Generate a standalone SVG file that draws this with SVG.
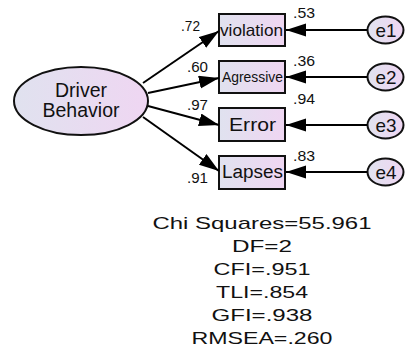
<svg xmlns="http://www.w3.org/2000/svg" width="406" height="350" viewBox="0 0 406 350">
  <defs>
    <linearGradient id="fillGrad" x1="0" y1="0" x2="1" y2="0">
      <stop offset="0" stop-color="#e0e2ef"/>
      <stop offset="1" stop-color="#efd6f2"/>
    </linearGradient>
    <marker id="arrow" markerUnits="userSpaceOnUse" markerWidth="21" markerHeight="14" refX="20" refY="6.5" orient="auto">
      <path d="M0,0 L20,6.5 L0,13 z" fill="#000"/>
    </marker>
    <style>
      text { font-family: "Liberation Sans", Arial, sans-serif; fill: #111; }
      .obs { fill: url(#fillGrad); stroke: #111; stroke-width: 2; }
      .lat { fill: url(#fillGrad); stroke: #111; stroke-width: 2; }
      .conn line { stroke: #000; stroke-width: 2; marker-end: url(#arrow); }
      .coef { font-size: 14px; }
      .fit { font-size: 17px; text-anchor: middle; }
    </style>
  </defs>

  <!-- latent factor -->
  <g id="driver-behavior">
    <ellipse class="lat" cx="81" cy="101" rx="67" ry="34"/>
    <text x="81" y="97" font-size="19.5" text-anchor="middle">Driver</text>
    <text x="81" y="117" font-size="19.5" text-anchor="middle">Behavior</text>
  </g>

  <!-- observed indicators -->
  <g id="violation">
    <rect class="obs" x="219" y="14" width="66" height="32"/>
    <text x="220" y="36" font-size="16.5" textLength="63" lengthAdjust="spacingAndGlyphs">violation</text>
  </g>
  <g id="agressive">
    <rect class="obs" x="219" y="61" width="66" height="32"/>
    <text x="222" y="82" font-size="14" textLength="61" lengthAdjust="spacingAndGlyphs">Agressive</text>
  </g>
  <g id="error">
    <rect class="obs" x="219" y="108" width="66" height="33"/>
    <text x="229" y="131" font-size="19" textLength="47" lengthAdjust="spacingAndGlyphs">Error</text>
  </g>
  <g id="lapses">
    <rect class="obs" x="219" y="156" width="66" height="33"/>
    <text x="222" y="178" font-size="18" textLength="61" lengthAdjust="spacingAndGlyphs">Lapses</text>
  </g>

  <!-- error terms -->
  <g id="e1">
    <ellipse class="lat" cx="385.5" cy="30" rx="18" ry="13.5"/>
    <text x="375.5" y="36.5" font-size="19" textLength="21" lengthAdjust="spacingAndGlyphs">e1</text>
  </g>
  <g id="e2">
    <ellipse class="lat" cx="385.5" cy="77" rx="18" ry="13.5"/>
    <text x="375.5" y="83.5" font-size="19" textLength="21" lengthAdjust="spacingAndGlyphs">e2</text>
  </g>
  <g id="e3">
    <ellipse class="lat" cx="385.5" cy="125" rx="18" ry="13.5"/>
    <text x="375.5" y="131.5" font-size="19" textLength="21" lengthAdjust="spacingAndGlyphs">e3</text>
  </g>
  <g id="e4">
    <ellipse class="lat" cx="385.5" cy="172" rx="18" ry="13.5"/>
    <text x="375.5" y="178.5" font-size="19" textLength="21" lengthAdjust="spacingAndGlyphs">e4</text>
  </g>

  <!-- paths -->
  <g id="connectors" class="conn">
    <line x1="143" y1="83" x2="219" y2="31"/>
    <line x1="148" y1="93" x2="219" y2="78"/>
    <line x1="148" y1="106" x2="219" y2="125"/>
    <line x1="143" y1="117" x2="219" y2="171"/>
    <line x1="367" y1="30" x2="286" y2="30"/>
    <line x1="367" y1="77" x2="286" y2="77"/>
    <line x1="367" y1="125" x2="286" y2="125"/>
    <line x1="367" y1="172" x2="286" y2="172"/>
  </g>

  <!-- standardized estimates -->
  <g id="estimates" class="coef">
    <text x="181" y="31" textLength="19" lengthAdjust="spacingAndGlyphs">.72</text>
    <text x="187" y="72" textLength="21" lengthAdjust="spacingAndGlyphs">.60</text>
    <text x="187" y="110" textLength="21" lengthAdjust="spacingAndGlyphs">.97</text>
    <text x="187" y="183" textLength="21" lengthAdjust="spacingAndGlyphs">.91</text>
    <text x="293" y="18" textLength="22" lengthAdjust="spacingAndGlyphs">.53</text>
    <text x="293" y="66" textLength="22" lengthAdjust="spacingAndGlyphs">.36</text>
    <text x="293" y="104" textLength="22" lengthAdjust="spacingAndGlyphs">.94</text>
    <text x="293" y="161" textLength="22" lengthAdjust="spacingAndGlyphs">.83</text>
  </g>

  <!-- model fit -->
  <g id="fit-indices" class="fit">
    <text x="262" y="229" textLength="219" lengthAdjust="spacingAndGlyphs">Chi Squares=55.961</text>
    <text x="262" y="252" textLength="60" lengthAdjust="spacingAndGlyphs">DF=2</text>
    <text x="262" y="275" textLength="97" lengthAdjust="spacingAndGlyphs">CFI=.951</text>
    <text x="262" y="298" textLength="92" lengthAdjust="spacingAndGlyphs">TLI=.854</text>
    <text x="262" y="321" textLength="101" lengthAdjust="spacingAndGlyphs">GFI=.938</text>
    <text x="262" y="344" textLength="141" lengthAdjust="spacingAndGlyphs">RMSEA=.260</text>
  </g>
</svg>
